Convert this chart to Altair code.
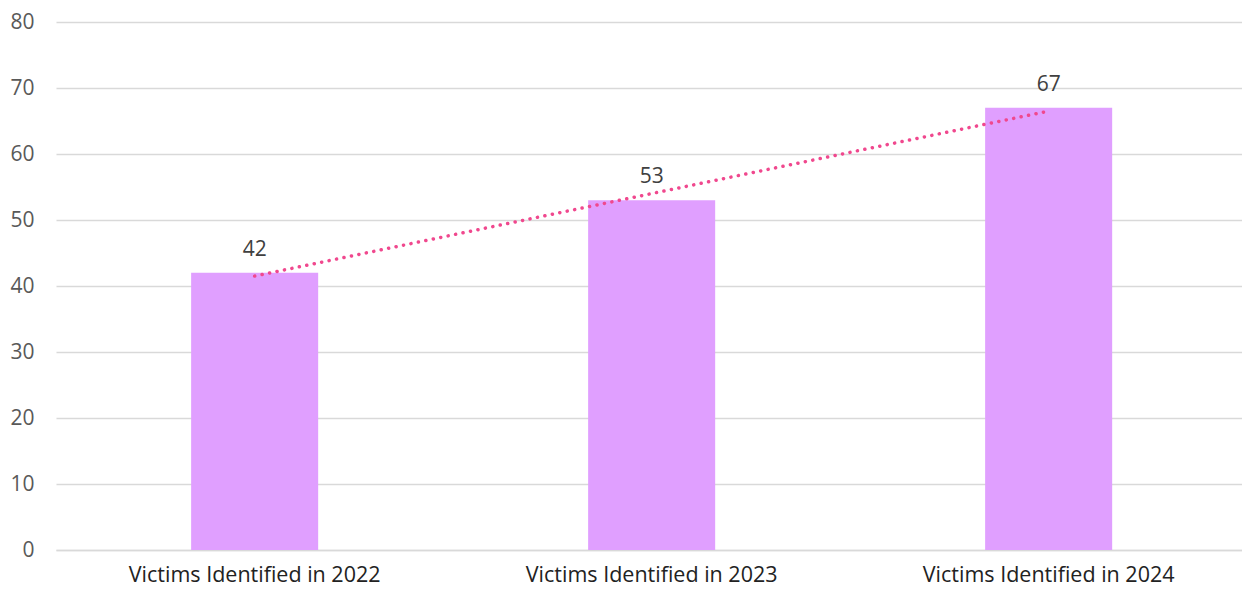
import altair as alt
import pandas as pd

categories = ["Victims Identified in 2022", "Victims Identified in 2023", "Victims Identified in 2024"]
values = [42, 53, 67]
order = [1, 2, 3]

df = pd.DataFrame({"cat": categories, "val": values, "idx": order})

FONT = "Open Sans"

x_enc = alt.X("cat:N", sort=categories, title=None,
              scale=alt.Scale(paddingInner=0.68, paddingOuter=0.3337, align=0.51),
              axis=alt.Axis(labelAngle=0, labelFontSize=21.5, labelColor="#222222",
                            labelFont=FONT, labelPadding=14, ticks=False, labelLimit=0,
                            domainColor="#d9d9d9", domainWidth=1.5, grid=False))
y_enc = alt.Y("val:Q", title=None,
              scale=alt.Scale(domain=[0, 80]),
              axis=alt.Axis(values=list(range(0, 81, 10)), labelFontSize=21,
                            labelColor="#595959", labelFont=FONT, labelPadding=22,
                            ticks=False, domain=False, gridColor="#d9d9d9",
                            gridWidth=1.5))

base = alt.Chart(df)

bars = base.mark_bar(color="#E09FFF").encode(x=x_enc, y=y_enc)

labels = base.mark_text(baseline="bottom", dy=-13, fontSize=21, font=FONT,
                        color="#404040").encode(
    x=alt.X("cat:N", sort=categories),
    y=alt.Y("val:Q"),
    text=alt.Text("val:Q"))

trend = base.transform_regression("idx", "val", method="linear").transform_calculate(
    cat="['Victims Identified in 2022','Victims Identified in 2023','Victims Identified in 2024'][round(datum.idx)-1]"
).mark_line(color="#F0488E", strokeWidth=3.5, strokeDash=[0.1, 7.5], strokeCap="round").encode(
    x=alt.X("cat:N", sort=categories),
    y=alt.Y("val:Q"))

chart = alt.layer(bars, trend, labels).properties(
    width=1186, height=528,
    padding={"left": 48, "top": 14, "right": 0, "bottom": 36},
    autosize=alt.AutoSizeParams(type="none"),
).configure_view(stroke=None)

chart.save("out.html", embed_options={"renderer": "svg", "actions": False})
